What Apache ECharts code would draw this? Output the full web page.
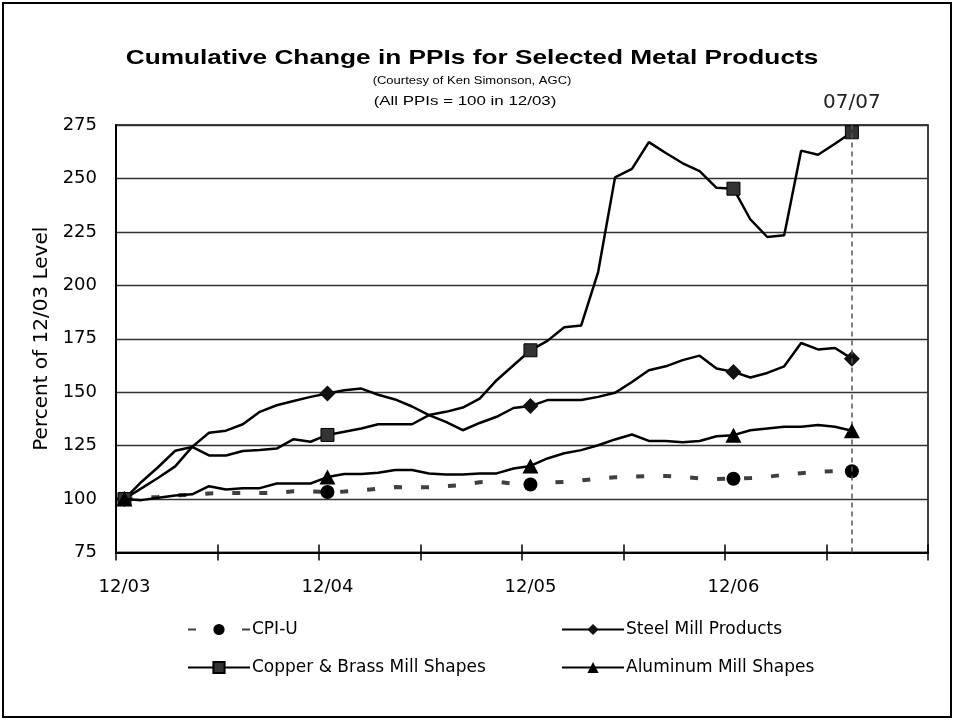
<!DOCTYPE html>
<html>
<head>
<meta charset="utf-8">
<script src="https://cdn.jsdelivr.net/npm/echarts@6/dist/echarts.min.js"></script>
<style>
html,body{margin:0;padding:0;background:#fff;}
#chart{width:959px;height:720px;}
</style>
</head>
<body>
<div id="chart"></div>
<script>
// Month categories (12/03 .. 11/07)
var categories = ['12/03','01/04','02/04','03/04','04/04','05/04','06/04','07/04','08/04','09/04','10/04','11/04',
  '12/04','01/05','02/05','03/05','04/05','05/05','06/05','07/05','08/05','09/05','10/05','11/05',
  '12/05','01/06','02/06','03/06','04/06','05/06','06/06','07/06','08/06','09/06','10/06','11/06',
  '12/06','01/07','02/07','03/07','04/07','05/07','06/07','07/07','08/07','09/07','10/07','11/07'];

var cpiU = [100,100.5,101.0,101.7,102.0,102.6,102.9,102.8,102.8,103.0,103.6,103.6,
  103.3,103.5,104.1,104.9,105.6,105.5,105.5,106.0,106.6,107.9,108.1,107.2,
  106.8,107.7,108.0,108.7,109.6,110.2,110.5,110.7,110.8,110.3,109.7,109.4,
  109.5,109.8,110.4,111.4,112.1,112.8,113.1,113.0];

var steel = [100,105,110,115.3,124.4,131,132,135,140.8,143.9,145.9,147.8,
  149.4,150.9,151.7,148.8,146.6,143.3,139.3,136.1,132.2,135.6,138.5,142.6,
  143.5,146.3,146.3,146.3,147.8,149.7,154.8,160.3,162.1,165,167.1,161.1,
  159.5,156.9,159,162.1,173,170,170.7,165.7];

var copper = [100,108,115,122.6,124.4,120.4,120.4,122.5,123,123.6,128,126.8,
  130,131.5,133,135,135,135,139.3,140.8,142.8,147,155.6,162.6,
  169.6,174,180.4,181.2,206.2,250.5,254.5,267,261.9,257.1,253.4,245.6,
  245.2,230.8,222.6,223.4,263,261.1,266.2,271.6];

var aluminum = [100,99.5,100.6,101.7,102.2,106,104.5,105.1,105.1,107.3,107.3,107.3,
  110.3,111.7,111.7,112.3,113.6,113.6,112,111.5,111.5,112,112,114.3,
  115.5,119,121.4,122.9,125.2,127.9,130.2,127.2,127.2,126.6,127.2,129.4,
  129.9,132.2,133,133.8,133.8,134.6,133.8,132];

var markedIdx = [0,12,24,36,43];
var yTicks = {min:75, max:275, step:25};
var refMonth = '07/07';

function withMarks(arr){
  return arr.map(function(v,i){
    return markedIdx.indexOf(i) >= 0 ? v : {value: v, symbol: 'none'};
  });
}

var FONT = 'DejaVu Sans';
var chart = echarts.init(document.getElementById('chart'), null, {renderer:'canvas'});

var legendCommon = {
  itemWidth: 62, itemHeight: 14, padding: 0, itemGap: 0, selectedMode: false,
  textStyle: {fontFamily: FONT, fontSize: 17, color: '#000', padding: [0,0,0,-3]}
};

var option = {
  animation: false,
  backgroundColor: '#fff',
  graphic: [
    {type:'rect', shape:{x:3, y:3, width:948, height:714}, style:{fill:'none', stroke:'#000', lineWidth:2}},
    {type:'text', x:472, y:58, scaleX:1.28, style:{text:'Cumulative Change in PPIs for Selected Metal Products',
      fontFamily:'Liberation Sans', fontWeight:'bold', fontSize:20.5, fill:'#000', textAlign:'center', textVerticalAlign:'middle'}},
    {type:'text', x:472, y:81, scaleX:1.3, style:{text:'(Courtesy of Ken Simonson, AGC)',
      fontFamily:'Liberation Sans', fontSize:10, fill:'#000', textAlign:'center', textVerticalAlign:'middle'}},
    {type:'text', x:465, y:101, scaleX:1.3, style:{text:'(All PPIs = 100 in 12/03)',
      fontFamily:'Liberation Sans', fontSize:13, fill:'#000', textAlign:'center', textVerticalAlign:'middle'}}
  ],
  grid: {left:116, right:31, top:125, bottom:167.5, show:true, borderColor:'#000', borderWidth:1.5},
  legend: [
    Object.assign({data:['CPI-U'], left:187, top:621}, legendCommon),
    Object.assign({data:['Steel Mill Products'], left:561, top:621}, legendCommon),
    Object.assign({data:['Copper & Brass Mill Shapes'], left:187, top:659}, legendCommon),
    Object.assign({data:['Aluminum Mill Shapes'], left:561, top:659}, legendCommon)
  ],
  xAxis: [
    {type:'category', data:categories, boundaryGap:true,
     axisLine:{show:true, lineStyle:{color:'#000', width:2}},
     axisTick:{show:true, interval:5, length:8, lineStyle:{color:'#000', width:1.5}},
     axisLabel:{interval:11, margin:26, fontFamily:FONT, fontSize:18, color:'#000'},
     splitLine:{show:false}},
    {type:'category', data:categories, boundaryGap:true, position:'bottom',
     axisLine:{show:false},
     axisTick:{show:true, inside:true, interval:5, length:8, lineStyle:{color:'#000', width:1.5}},
     axisLabel:{show:false}, splitLine:{show:false}}
  ],
  yAxis: {type:'value', min:yTicks.min, max:yTicks.max, interval:yTicks.step,
    axisLine:{show:true, lineStyle:{color:'#000', width:2}},
    axisTick:{show:false},
    axisLabel:{margin:19, fontFamily:FONT, fontSize:18, color:'#000'},
    splitLine:{show:true, lineStyle:{color:'#333', width:1.3}},
    name:'Percent of 12/03 Level', nameLocation:'middle', nameGap:62,
    nameTextStyle:{fontFamily:FONT, fontSize:20, color:'#000'}
  },
  series: [
    {name:'CPI-U', type:'line', data:withMarks(cpiU), symbol:'circle', symbolSize:14, showAllSymbol:true,
     lineStyle:{color:'#404040', width:4, type:[8,19]}, itemStyle:{color:'#000'}, z:2},
    {name:'Steel Mill Products', type:'line', data:withMarks(steel), symbol:'diamond', symbolSize:16, showAllSymbol:true,
     lineStyle:{color:'#000', width:2.5}, itemStyle:{color:'#111'}, z:3},
    {name:'Copper & Brass Mill Shapes', type:'line', data:withMarks(copper), symbol:'rect', symbolSize:13, showAllSymbol:true,
     lineStyle:{color:'#000', width:2.5}, itemStyle:{color:'#333', borderColor:'#000', borderWidth:1}, z:4},
    {name:'Aluminum Mill Shapes', type:'line', data:withMarks(aluminum), symbol:'triangle', symbolSize:[16,15], showAllSymbol:true,
     lineStyle:{color:'#000', width:2.5}, itemStyle:{color:'#000'}, z:5,
     markLine:{silent:true, symbol:'none', animation:false,
       lineStyle:{color:'#555', width:1.5, type:[5,4]},
       label:{show:true, position:'end', distance:12, formatter:refMonth, fontFamily:FONT, fontSize:20, color:'#222'},
       data:[{xAxis:refMonth}]}}
  ]
};
chart.setOption(option);
</script>
</body>
</html>
